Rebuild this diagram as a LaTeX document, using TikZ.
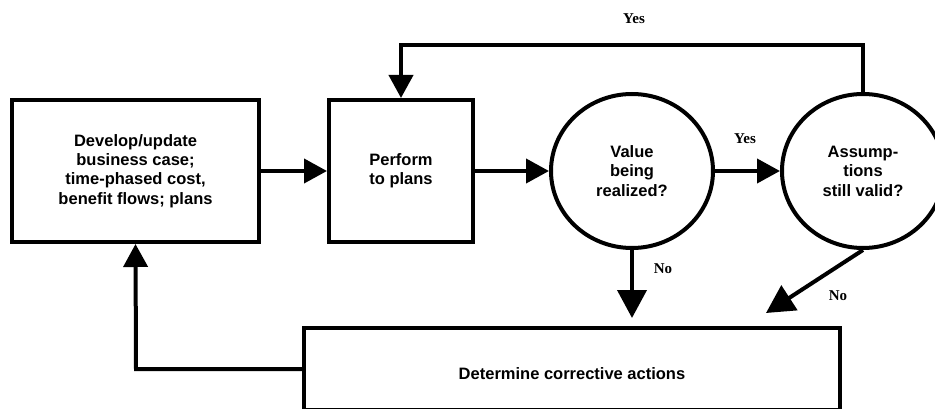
\documentclass[tikz,border=0pt]{standalone}
\usepackage{fontspec}
\setmainfont{Liberation Sans}
\newfontfamily\labelfont{Liberation Serif}
\usetikzlibrary{arrows.meta,shapes.geometric}
\tikzset{
  boxnode/.style={draw, line width=4pt, rectangle, inner sep=0pt, align=center,
    font=\fontsize{16.5}{19.3}\selectfont\bfseries},
  decnode/.style={draw, line width=4pt, ellipse, inner sep=0pt, align=center,
    minimum width=162pt, minimum height=154pt,
    font=\fontsize{16.5}{19.5}\selectfont\bfseries},
  arr/.style={line width=4pt, -{Triangle[length=23pt,width=24pt]}},
  bigarr/.style={line width=4pt, -{Triangle[length=28pt,width=29pt]}},
  lbl/.style={font=\labelfont\fontsize{15}{18}\selectfont\bfseries, inner sep=0pt}
}
\begin{document}
\begin{tikzpicture}[x=1pt,y=-1pt]
\useasboundingbox (0,0) rectangle (935,409);
\node[boxnode, minimum width=247pt, minimum height=142pt] (dev) at (135.5,171)
  {Develop/update\\business case;\\time-phased cost,\\benefit flows; plans};
\node[boxnode, minimum width=144pt, minimum height=142pt] (perf) at (401,171)
  {Perform\\to plans};
\node[decnode] (val) at (632,171) {Value\\being\\realized?};
\node[decnode] (ass) at (863,171) {Assump-\\tions\\still valid?};
\node[boxnode, minimum width=536pt, minimum height=82pt, text height=20pt, text depth=0pt] (fix) at (572,369)
  {Determine corrective actions};
\coordinate (topleft) at (401,45);
\coordinate (dtip) at (766,313);
\coordinate (retcorner) at (136,369);
% connectors
\draw[arr] (dev.east) -- (perf.west);
\draw[arr] (perf.east) -- (val.west);
\draw[arr] (val.east) -- (ass.west);
\draw[arr, line join=miter] (ass.north) |- (topleft) -- (perf.north);
\draw[bigarr] (val.south) -- ([yshift=8pt]val.south |- fix.north);
\draw[bigarr] (ass.south) -- (dtip);
\draw[arr, line join=miter] (fix.west) -- (retcorner) -- (dev.south);
% labels
\node[lbl] (ytop) at (634,19) {Yes};
\node[lbl] (ymid) at (745,139) {Yes};
\node[lbl] (nmid) at (663,269) {No};
\node[lbl] (nright) at (838,296) {No};
\end{tikzpicture}
\end{document}
